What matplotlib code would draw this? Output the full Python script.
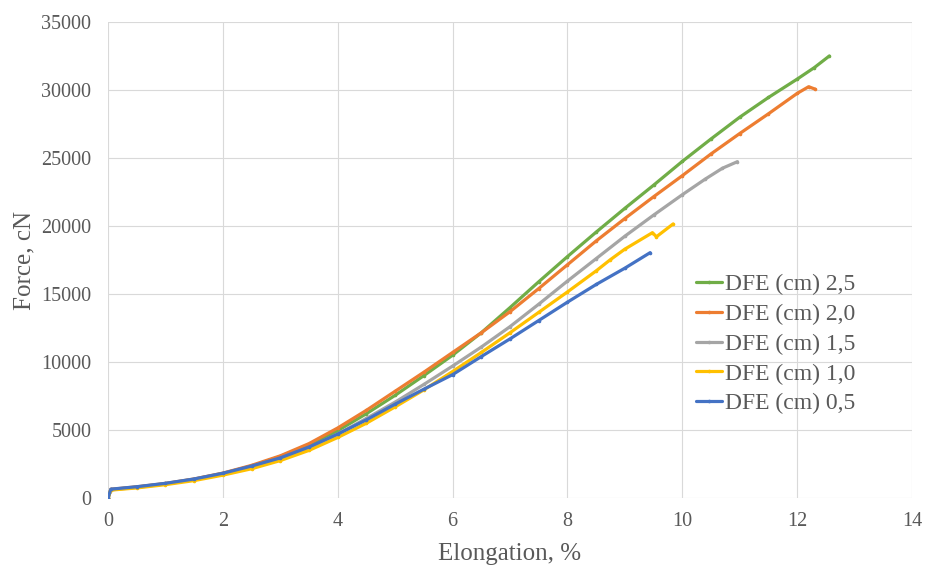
import matplotlib
matplotlib.use("Agg")
import matplotlib.pyplot as plt

plt.rcParams['font.family'] = ['Liberation Serif', 'DejaVu Serif']

# DFE (cm) 2,5
x25 = [0, 0.05, 0.5, 1, 1.5, 2, 2.5, 3, 3.5, 4, 4.5, 5, 5.5, 6, 6.5, 7, 7.5, 8, 8.5, 9, 9.5, 10, 10.5, 11, 11.5, 12, 12.3, 12.56]
y25 = [0, 620, 800, 1050, 1380, 1800, 2350, 3050, 3900, 4950, 6200, 7550, 9000, 10500, 12150, 14000, 15900, 17750, 19550, 21300, 23000, 24750, 26400, 28000, 29450, 30800, 31650, 32500]
# DFE (cm) 2,0
x20 = [0, 0.05, 0.5, 1, 1.5, 2, 2.5, 3, 3.5, 4, 4.5, 5, 5.5, 6, 6.5, 7, 7.5, 8, 8.5, 9, 9.5, 10, 10.5, 11, 11.5, 12, 12.2, 12.31]
y20 = [0, 640, 820, 1070, 1400, 1830, 2400, 3100, 4000, 5150, 6450, 7850, 9250, 10700, 12150, 13700, 15400, 17150, 18900, 20550, 22150, 23700, 25300, 26800, 28250, 29750, 30240, 30070]
# DFE (cm) 1,5
x15 = [0, 0.05, 0.5, 1, 1.5, 2, 2.5, 3, 3.5, 4, 4.5, 5, 5.5, 6, 6.5, 7, 7.5, 8, 8.5, 9, 9.5, 10, 10.4, 10.7, 10.96]
y15 = [0, 600, 780, 1030, 1350, 1760, 2280, 2900, 3700, 4700, 5850, 7050, 8350, 9700, 11100, 12600, 14250, 15950, 17600, 19250, 20800, 22300, 23450, 24250, 24730]
# DFE (cm) 1,0
x10 = [0, 0.05, 0.5, 1, 1.5, 2, 2.5, 3, 3.5, 4, 4.5, 5, 5.5, 6, 6.5, 7, 7.5, 8, 8.5, 8.74, 9, 9.48, 9.55, 9.84]
y10 = [0, 580, 740, 980, 1280, 1680, 2150, 2750, 3500, 4450, 5500, 6700, 7950, 9300, 10700, 12150, 13650, 15150, 16700, 17500, 18300, 19510, 19210, 20150]
# DFE (cm) 0,5
x05 = [0, 0.05, 0.5, 1, 1.5, 2, 2.5, 3, 3.5, 4, 4.5, 5, 5.5, 6, 6.5, 7, 7.5, 8, 8.5, 9, 9.44]
y05 = [0, 650, 830, 1080, 1400, 1820, 2350, 2950, 3750, 4700, 5750, 6900, 8000, 9070, 10400, 11700, 13050, 14400, 15700, 16900, 18040]

labels = ['DFE (cm) 2,5', 'DFE (cm) 2,0', 'DFE (cm) 1,5', 'DFE (cm) 1,0', 'DFE (cm) 0,5']
colors = ['#70AD47', '#ED7D31', '#A5A5A5', '#FFC000', '#4472C4']
series = [(x25, y25), (x20, y20), (x15, y15), (x10, y10), (x05, y05)]

xticks = [0, 2, 4, 6, 8, 10, 12, 14]
yticks = [0, 5000, 10000, 15000, 20000, 25000, 30000, 35000]

fig = plt.figure(figsize=(9.28, 5.68), dpi=100)
ax = fig.add_axes([108/928, 1-498/568, (912-108)/928, (498-22)/568])

for (xs, ys), c, lab in zip(series, colors, labels):
    ax.plot(xs, ys, color=c, lw=2.3, marker='o', ms=1.6, label=lab,
            solid_joinstyle='round', solid_capstyle='round')

ax.set_xlim(0, 14)
ax.set_ylim(0, 35000)
ax.set_xticks(xticks)
ax.set_yticks(yticks)
ax.set_xticklabels([str(v) for v in xticks])
ax.set_yticklabels([str(v) for v in yticks])
ax.grid(True, color='#D9D9D9', lw=0.8)
ax.set_axisbelow(True)
for s in ax.spines.values():
    s.set_visible(False)
ax.tick_params(length=0, labelsize=14.5, labelcolor='#595959')
ax.tick_params(axis='x', pad=10)
ax.tick_params(axis='y', pad=12)

ax.set_xlabel('Elongation, %', fontsize=18, color='#595959', labelpad=9)
ax.set_ylabel('Force, cN', fontsize=18, color='#595959', labelpad=4)

leg = ax.legend(loc='upper left', bbox_to_anchor=((684-108)/804, (498-262)/476),
                frameon=False, fontsize=17, handlelength=1.1, handletextpad=0.15,
                labelspacing=0.35, borderpad=0)
for t in leg.get_texts():
    t.set_color('#595959')

fig.savefig('out.png', dpi=100)
